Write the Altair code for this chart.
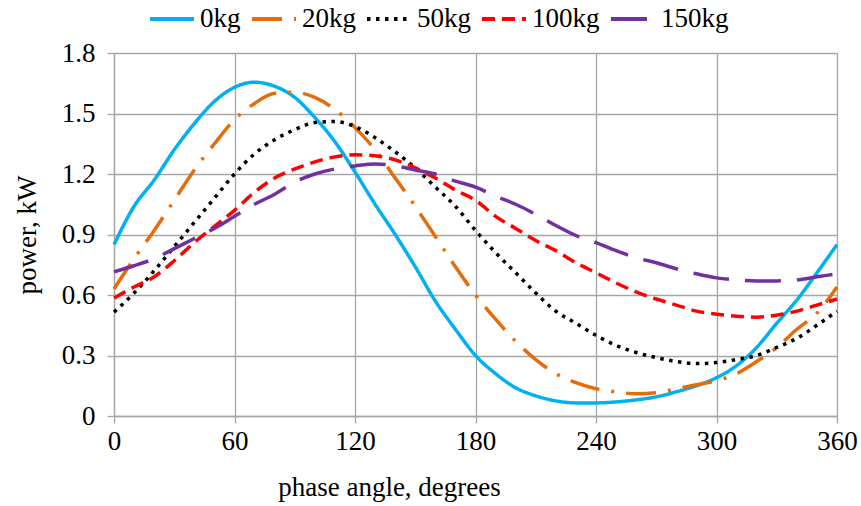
import altair as alt
import pandas as pd

angles = list(range(0, 361, 10))
series_names = ["0kg", "20kg", "50kg", "100kg", "150kg"]

p0 = [0.85, 1.04, 1.17, 1.32, 1.45, 1.56, 1.63, 1.655, 1.635, 1.58, 1.48, 1.36, 1.21,
      1.05, 0.90, 0.74, 0.57, 0.43, 0.30, 0.21, 0.14, 0.10, 0.075, 0.065, 0.065, 0.07,
      0.08, 0.095, 0.12, 0.15, 0.19, 0.25, 0.34, 0.46, 0.575, 0.71, 0.85]
p20 = [0.63, 0.78, 0.92, 1.07, 1.22, 1.35, 1.47, 1.55, 1.60, 1.605, 1.58, 1.52, 1.43,
       1.32, 1.18, 1.04, 0.89, 0.74, 0.60, 0.48, 0.37, 0.28, 0.21, 0.165, 0.135, 0.12,
       0.11, 0.115, 0.135, 0.155, 0.175, 0.21, 0.27, 0.34, 0.43, 0.51, 0.64]
p50 = [0.515, 0.61, 0.72, 0.84, 0.96, 1.08, 1.20, 1.30, 1.37, 1.42, 1.455, 1.46, 1.435,
       1.38, 1.31, 1.23, 1.135, 1.04, 0.92, 0.81, 0.71, 0.61, 0.52, 0.46, 0.40, 0.35,
       0.315, 0.29, 0.27, 0.26, 0.265, 0.28, 0.30, 0.34, 0.385, 0.45, 0.52]
p100 = [0.585, 0.64, 0.69, 0.77, 0.86, 0.94, 1.02, 1.11, 1.18, 1.225, 1.26, 1.285, 1.295,
        1.29, 1.27, 1.23, 1.18, 1.12, 1.07, 0.99, 0.93, 0.87, 0.82, 0.76, 0.71, 0.66,
        0.615, 0.58, 0.55, 0.52, 0.505, 0.495, 0.49, 0.50, 0.52, 0.55, 0.58]
p150 = [0.715, 0.745, 0.78, 0.83, 0.88, 0.93, 0.99, 1.05, 1.10, 1.16, 1.20, 1.225, 1.24,
        1.25, 1.24, 1.22, 1.20, 1.165, 1.135, 1.09, 1.05, 1.00, 0.945, 0.895, 0.86, 0.82,
        0.785, 0.76, 0.73, 0.705, 0.685, 0.675, 0.67, 0.67, 0.675, 0.69, 0.705]

colors = ["#00B0F0", "#E46C0A", "#000000", "#FF0000", "#7030A0"]
dashes = [[1, 0], [30, 12, 3, 12], [3.5, 5.5], [13, 7], [36, 16]]

rows = []
for name, vals in zip(series_names, [p0, p20, p50, p100, p150]):
    for a, v in zip(angles, vals):
        rows.append({"angle": a, "power": v, "series": name})
df = pd.DataFrame(rows)

FONT = "Liberation Serif"
FS = 27
legend = alt.Legend(
    title=None, orient="none", legendX=34, legendY=-58, direction="horizontal",
    columns=5, symbolType="stroke", symbolSize=1936, symbolStrokeWidth=4,
    labelFontSize=FS, labelFont=FONT, labelColor="#000000", labelOffset=4,
    columnPadding=3, padding=0,
)

chart = alt.Chart(df).mark_line(strokeWidth=3.5, interpolate="monotone", strokeCap="butt").encode(
    x=alt.X("angle:Q", scale=alt.Scale(domain=[0, 360], nice=False),
            axis=alt.Axis(values=[0, 60, 120, 180, 240, 300, 360], title="phase angle, degrees",
                          labelFlush=False,
                          titlePadding=20, titleX=275, titleAnchor="start", titleAlign="center")),
    y=alt.Y("power:Q", scale=alt.Scale(domain=[0, 1.8], nice=False),
            axis=alt.Axis(values=[0, 0.3, 0.6, 0.9, 1.2, 1.5, 1.8], title="power, kW",
                          labelFlush=False,
                          labelExpr="datum.value == 0 ? '0' : format(datum.value, '.1f')",
                          titlePadding=20)),
    color=alt.Color("series:N", sort=series_names,
                    scale=alt.Scale(domain=series_names, range=colors), legend=legend),
    strokeDash=alt.StrokeDash("series:N", sort=series_names,
                              scale=alt.Scale(domain=series_names, range=dashes), legend=legend),
    order=alt.Order("angle:Q"),
).properties(
    width=723, height=363,
    autosize=alt.AutoSizeParams(type="none"),
    padding={"left": 114, "top": 53, "right": 24, "bottom": 90},
).configure_view(
    stroke=None
).configure_axis(
    labelFont=FONT, titleFont=FONT, labelFontSize=FS, titleFontSize=FS,
    labelColor="#000000", titleColor="#000000", titleFontWeight="normal",
    gridColor="#A6A6A6", gridWidth=1.3, domainColor="#A6A6A6", domainWidth=1.3,
    tickColor="#A6A6A6", tickWidth=1.3, tickSize=7, labelPadding=5,
).configure_axisY(
    labelPadding=12
)

chart.save("out.html", embed_options={"renderer": "svg", "actions": False})
